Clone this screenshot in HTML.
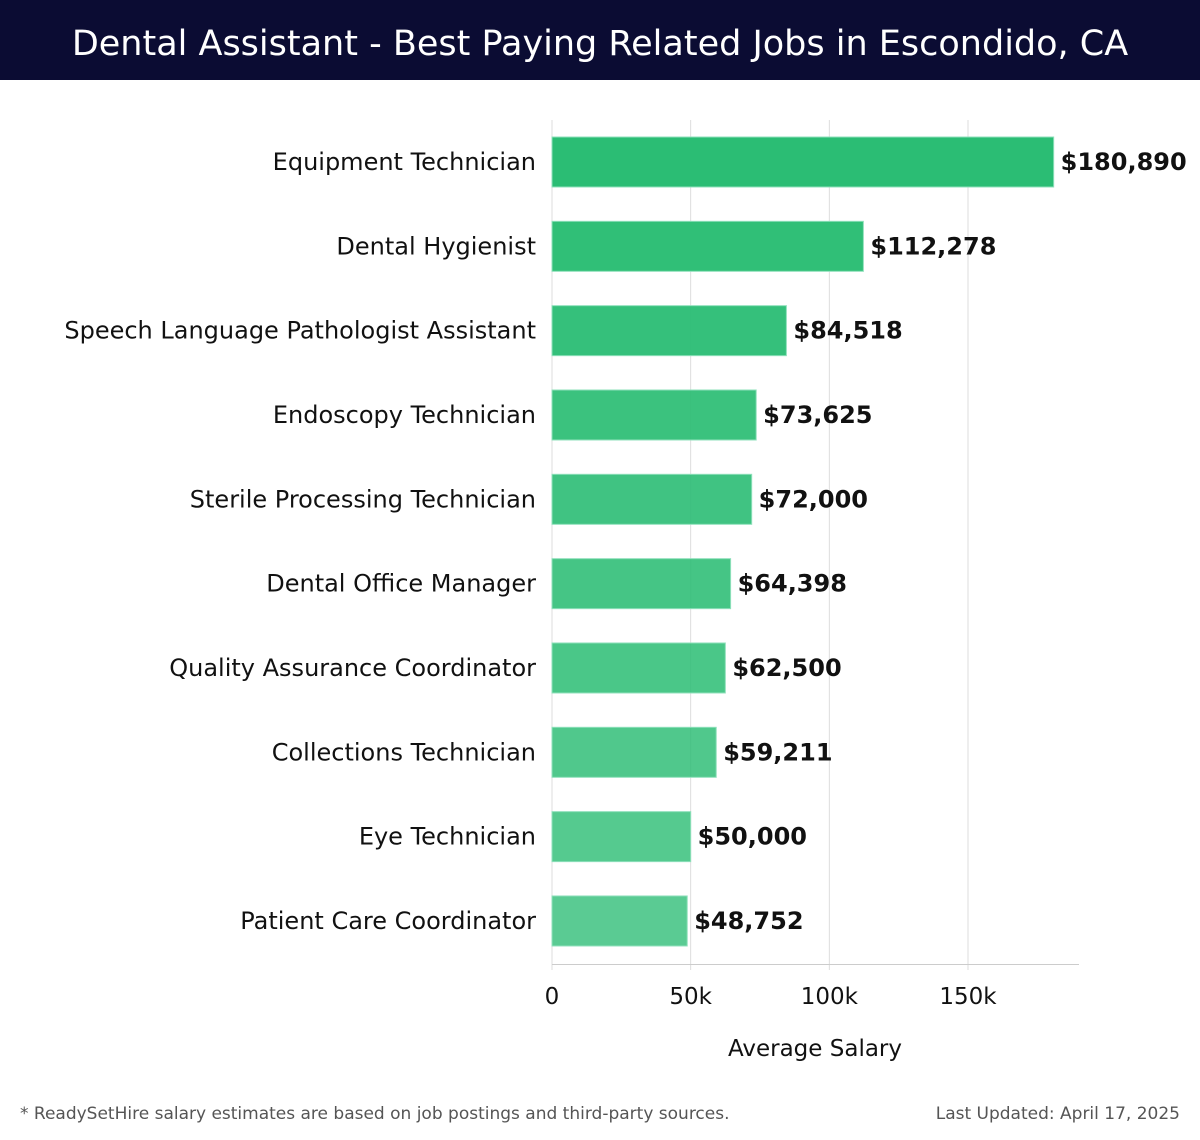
<!DOCTYPE html>
<html><head><meta charset="utf-8"><style>
body{margin:0;width:1200px;height:1140px;background:#fff;font-family:"DejaVu Sans","Liberation Sans",sans-serif;overflow:hidden}
#hdr{position:absolute;left:0;top:0;width:1200px;height:80px;background:#0b0c33;color:#fff;font-size:35px;text-align:center;line-height:88px;font-family:"DejaVu Sans","Liberation Sans",sans-serif;font-weight:normal;letter-spacing:0}
svg{position:absolute;left:0;top:0}
</style></head><body>
<div id="hdr">Dental Assistant - Best Paying Related Jobs in Escondido, CA</div>
<svg id="c" width="1200" height="1140"></svg>
<script>
const categories=["Equipment Technician","Dental Hygienist","Speech Language Pathologist Assistant","Endoscopy Technician","Sterile Processing Technician","Dental Office Manager","Quality Assurance Coordinator","Collections Technician","Eye Technician","Patient Care Coordinator"];
const values=[180890,112278,84518,73625,72000,64398,62500,59211,50000,48752];
const valueLabels=["$180,890","$112,278","$84,518","$73,625","$72,000","$64,398","$62,500","$59,211","$50,000","$48,752"];
const ticks=[0,50000,100000,150000];
const tickLabels=["0","50k","100k","150k"];
const NS="http://www.w3.org/2000/svg";
const svg=document.getElementById('c');
const x0=552,pxPer=(968-552)/150000,xMax=1079;
const x=v=>x0+v*pxPer;
const y=i=>162+i*84.33;
function mk(t,a,p){const e=document.createElementNS(NS,t);for(const k in a)e.setAttribute(k,a[k]);(p||svg).appendChild(e);return e;}
ticks.forEach((t,i)=>{
  const g=mk('line',{x1:x(t),x2:x(t),y1:120,y2:970,stroke:'#dddddd','stroke-width':1});
  
  
  const tl=mk('text',{x:x(t),y:1004,'text-anchor':'middle','font-size':23,fill:'#111'});
  tl.textContent=tickLabels[i];
  
  
});
const ax=mk('line',{x1:x0,x2:xMax,y1:964.5,y2:964.5,stroke:'#cccccc','stroke-width':1});


categories.forEach((c,i)=>{
  const op=1-0.22*i/(categories.length-1);
  const b=mk('rect',{x:x0,y:y(i)-25,width:x(values[i])-x0,height:50,fill:'#2bbd74','fill-opacity':op,stroke:'#8fe0bb','stroke-width':1});
  
  
  const l=mk('text',{x:536,y:y(i)+8,'text-anchor':'end','font-size':24,fill:'#111'});
  l.textContent=c;
  
  
  const v=mk('text',{x:x(values[i])+7,y:y(i)+8,'font-size':24,'font-weight':'bold',fill:'#111'});
  v.textContent=valueLabels[i];
  
  
});
const at=mk('text',{x:815,y:1056,'text-anchor':'middle','font-size':23,fill:'#111'});
at.textContent='Average Salary';


const fn=mk('text',{x:20,y:1119,'font-size':17,fill:'#555'});
fn.textContent='* ReadySetHire salary estimates are based on job postings and third-party sources.';


const lu=mk('text',{x:1180,y:1119,'text-anchor':'end','font-size':17,fill:'#555'});
lu.textContent='Last Updated: April 17, 2025';


</script>
</body></html>
